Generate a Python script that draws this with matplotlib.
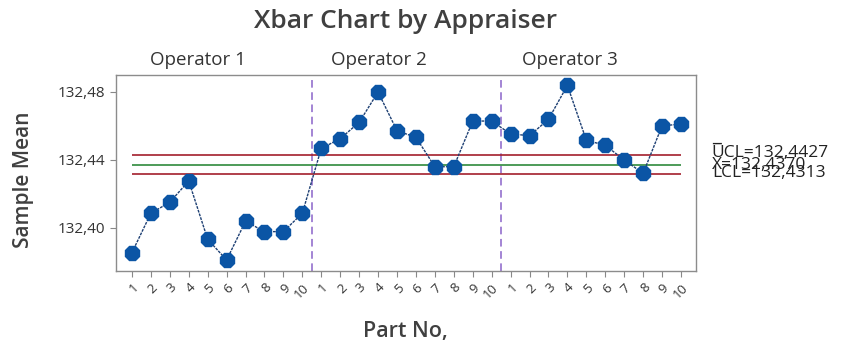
import matplotlib
matplotlib.use("Agg")
import matplotlib.pyplot as plt
import matplotlib.transforms as mtransforms

plt.rcParams["font.family"] = ["Open Sans", "DejaVu Sans"]

# ── Данные ────────────────────────────────────────────────────────────────
operators = ["Operator 1", "Operator 2", "Operator 3"]
parts = [1, 2, 3, 4, 5, 6, 7, 8, 9, 10]
op1_means = [132.3852, 132.4084, 132.4149, 132.4274, 132.3931,
             132.3809, 132.4037, 132.3976, 132.3976, 132.4084]
op2_means = [132.4466, 132.4523, 132.4619, 132.4798, 132.4570,
             132.4531, 132.4358, 132.4358, 132.4627, 132.4627]
op3_means = [132.4551, 132.4541, 132.4637, 132.4837, 132.4514,
             132.4484, 132.4398, 132.4319, 132.4599, 132.4609]
ucl, center, lcl = 132.4427, 132.4370, 132.4313
yticks = [132.40, 132.44, 132.48]

means = op1_means + op2_means + op3_means
xs = list(range(1, len(means) + 1))
tick_labels = [str(p) for p in parts] * len(operators)

TXT = "#333333"
HEAD = "#404040"
fig = plt.figure(figsize=(8.5, 3.55), dpi=100)
ax = fig.add_axes([0.1365, 0.2375, 0.6825, 0.5512])

# ── Контрольные линии ─────────────────────────────────────────────────────
ax.hlines([ucl, lcl], xs[0], xs[-1], color="#a31f2c", lw=1.2, zorder=2)
ax.hlines(center, xs[0], xs[-1], color="#2f8a3c", lw=1.2, zorder=2)
for k in range(1, len(operators)):
    ax.axvline(k * len(parts) + 0.5, color="#8a63c9", lw=1.1,
               ls=(0, (5, 3)), zorder=1)

# ── Средние ───────────────────────────────────────────────────────────────
ax.plot(xs, means, color="#1d3f73", lw=1.0, ls=(0, (2, 0.8)), zorder=3)
ax.plot(xs, means, ls="none", marker="8", ms=11.5, color="#0b55a5",
        mec="#0b55a5", zorder=4)

ax.set_xlim(0.16, 30.8)
ax.set_ylim(132.3746, 132.4898)
ax.set_xticks(xs)
ax.set_xticklabels(tick_labels, rotation=45, ha="right", rotation_mode="anchor",
                   fontsize=9.5, color=TXT)
ax.set_yticks(yticks)
ax.set_yticklabels([f"{v:.2f}".replace(".", ",") for v in yticks],
                   fontsize=11, color=TXT)
ax.tick_params(axis="both", colors="#888888", length=4, labelcolor=TXT)
for s in ax.spines.values():
    s.set_color("#8c8c8c")
    s.set_linewidth(1.0)

# ── Подписи операторов ───────────────────────────────────────────────────
trans = mtransforms.blended_transform_factory(ax.transData, ax.transAxes)
for name, xpos in zip(operators, [4.49, 14.05, 24.15]):
    ax.text(xpos, 1.03, name, transform=trans, ha="center", va="bottom",
            fontsize=13.5, color=TXT)

# ── Подписи контрольных границ (как в оригинале — внахлёст) ──────────────
lim_trans = mtransforms.blended_transform_factory(ax.transAxes, ax.transData)
lim_kw = dict(transform=lim_trans, fontsize=12.5, color="#222222",
              va="center", clip_on=False)
ax.text(1.027, ucl + 0.0011, "UCL=132,4427", **lim_kw)
ax.text(1.027, center - 0.0002, "X=132,4370", **lim_kw)
ax.text(1.027, center + 0.0078, "\u203e", **lim_kw)
ax.text(1.027, lcl + 0.0007, "LCL=132,4313", **lim_kw)

fig.text(405 / 850, 1 - 22 / 355, "Xbar Chart by Appraiser", fontsize=19,
         color=HEAD, fontweight="semibold", ha="center", va="center")
fig.text(405 / 850, 1 - 332 / 355, "Part No,", fontsize=15.5, color=HEAD,
         fontweight="semibold", ha="center", va="center")
fig.text(23 / 850, 1 - 180 / 355, "Sample Mean", fontsize=15, color=HEAD,
         fontweight="semibold", ha="center", va="center", rotation=90)

fig.savefig("out.png", dpi=100, facecolor="white")
